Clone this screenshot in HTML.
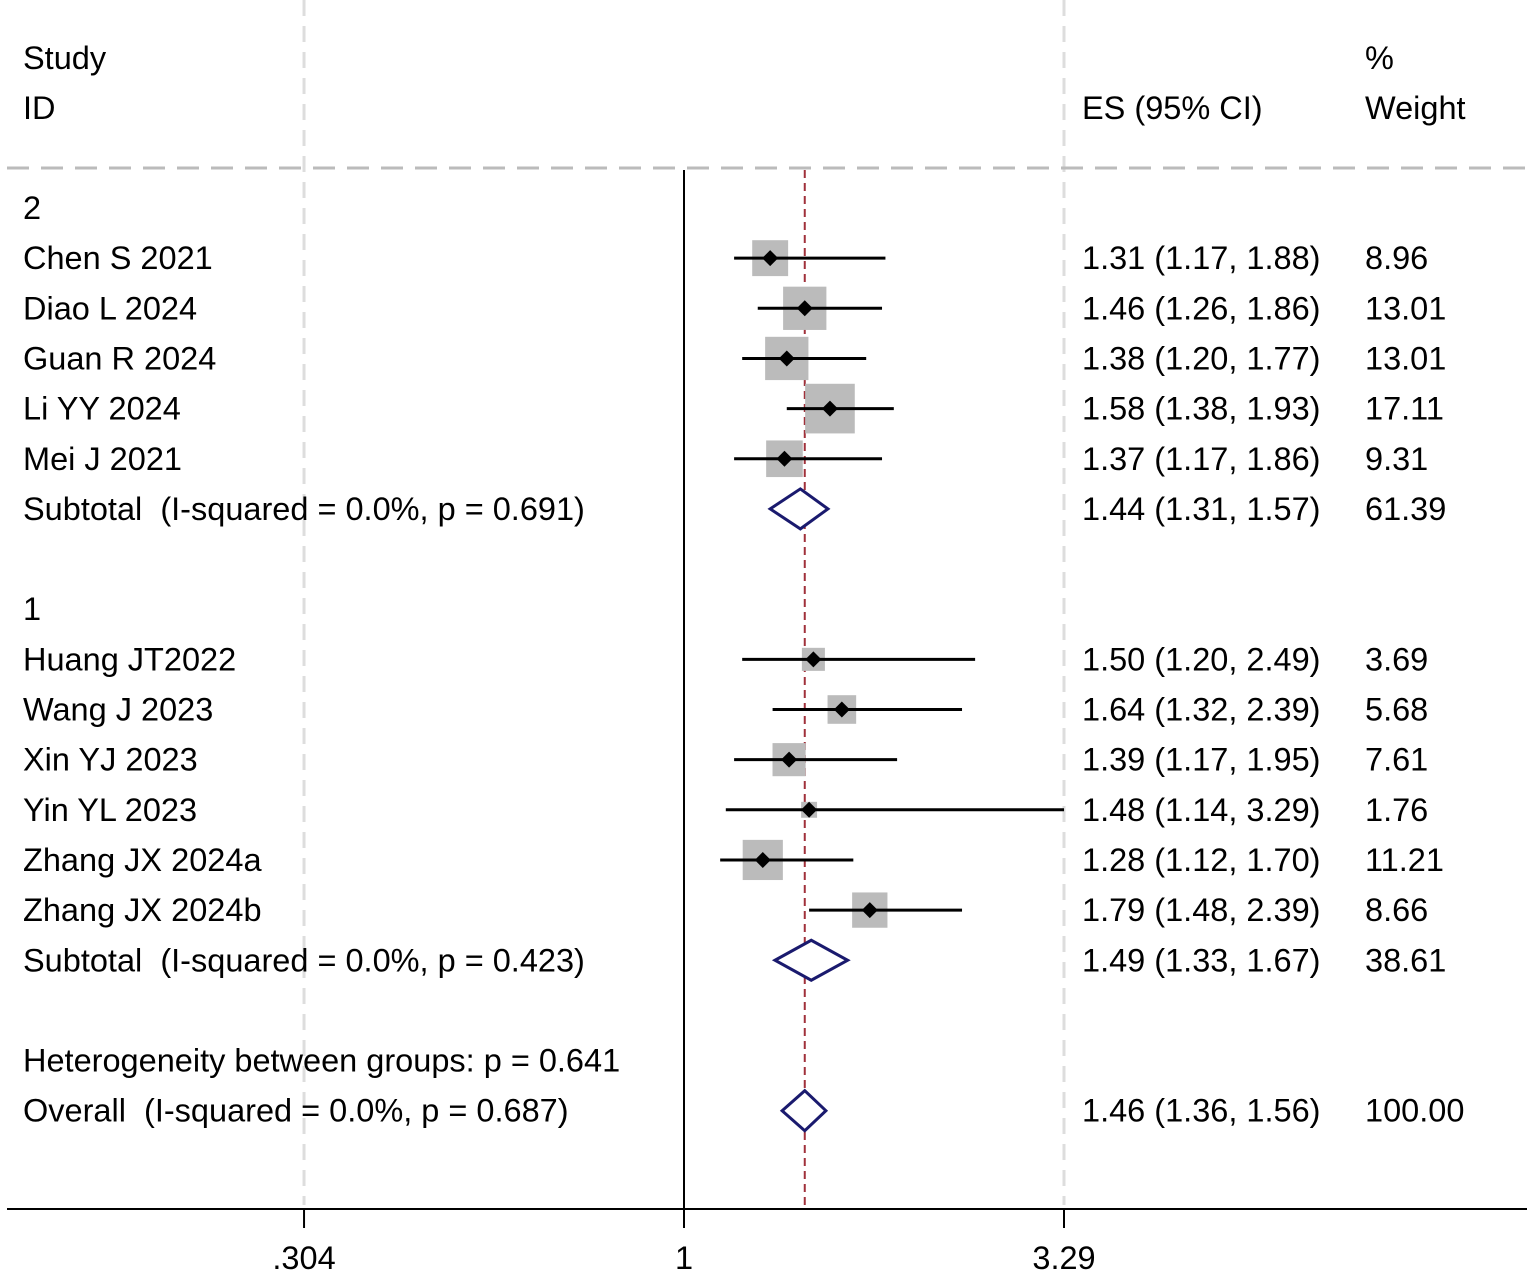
<!DOCTYPE html>
<html><head><meta charset="utf-8"><style>
html,body{margin:0;padding:0;background:#fff}
svg{display:block}
text{font-family:"Liberation Sans",Arial,sans-serif;font-size:32.5px;fill:#000;white-space:pre}
</style></head><body>
<svg id="chart" width="1535" height="1276" viewBox="0 0 1535 1276" xml:space="preserve"></svg>
<script>
const studies=["Chen S 2021","Diao L 2024","Guan R 2024","Li YY 2024","Mei J 2021","Huang JT2022","Wang J 2023","Xin YJ 2023","Yin YL 2023","Zhang JX 2024a","Zhang JX 2024b"];
const es=[1.31,1.46,1.38,1.58,1.37,1.50,1.64,1.39,1.48,1.28,1.79];
const lo=[1.17,1.26,1.20,1.38,1.17,1.20,1.32,1.17,1.14,1.12,1.48];
const hi=[1.88,1.86,1.77,1.93,1.86,2.49,2.39,1.95,3.29,1.70,2.39];
const wt=["8.96","13.01","13.01","17.11","9.31","3.69","5.68","7.61","1.76","11.21","8.66"];
const studyRows=[1,2,3,4,5,9,10,11,12,13,14];
const pooledLabels=["Subtotal  (I-squared = 0.0%, p = 0.691)","Subtotal  (I-squared = 0.0%, p = 0.423)","Overall  (I-squared = 0.0%, p = 0.687)"];
const pooledEs=[1.44,1.49,1.46];
const pooledLo=[1.31,1.33,1.36];
const pooledHi=[1.57,1.67,1.56];
const pooledWt=["61.39","38.61","100.00"];
const pooledRows=[6,15,18];
const tickVals=[0.304,1,3.29];
const tickLabels=[".304","1","3.29"];

const svg=document.getElementById('chart');
const NS='http://www.w3.org/2000/svg';
const x=v=>684+Math.log(v)*319.1;
const y=r=>208+r*50.15;
function el(tag,attrs,name){const e=document.createElementNS(NS,tag);for(const k in attrs)e.setAttribute(k,attrs[k]);


svg.appendChild(e);return e;}
function txt(s,xx,yy,name,anchor){const t=el('text',{x:xx,y:yy+11,'text-anchor':anchor||'start'},name);t.textContent=s;return t;}

// grid
el('line',{x1:x(0.304),y1:0,x2:x(0.304),y2:1205,stroke:'#ddd','stroke-width':3,'stroke-dasharray':'16,10'},'gridline-304');
el('line',{x1:x(3.29),y1:0,x2:x(3.29),y2:1205,stroke:'#ddd','stroke-width':3,'stroke-dasharray':'16,10'},'gridline-329');
el('line',{x1:7,y1:168,x2:1527,y2:168,stroke:'#bbb','stroke-width':3,'stroke-dasharray':'22,12'},'header-separator');
el('line',{x1:684,y1:170,x2:684,y2:1209,stroke:'#000','stroke-width':2},'null-line');
el('line',{x1:x(pooledEs[2]),y1:170,x2:x(pooledEs[2]),y2:1209,stroke:'#a0313a','stroke-width':2,'stroke-dasharray':'8,5'},'overall-effect-line');
// axis
el('line',{x1:7,y1:1209,x2:1527,y2:1209,stroke:'#000','stroke-width':2},'x-axis');
tickVals.forEach((v,i)=>{el('line',{x1:x(v),y1:1209,x2:x(v),y2:1228,stroke:'#000','stroke-width':2},'x-tick');
txt(tickLabels[i],x(v),1258,'x-tick-label','middle');});

// headers
txt('Study',23,58,'header-study');txt('ID',23,108,'header-id');
txt('ES (95% CI)',1082,108,'header-es');txt('%',1365,58,'header-percent');txt('Weight',1365,108,'header-weight');
txt('2',23,y(0),'group-label-2');txt('1',23,y(8),'group-label-1');
txt('Heterogeneity between groups: p = 0.641',23,y(17),'heterogeneity-label');

studies.forEach((s,i)=>{const yy=y(studyRows[i]);
txt(s,23,yy,'study-label');
const side=12*Math.sqrt(parseFloat(wt[i]));
el('rect',{x:x(es[i])-side/2,y:yy-side/2,width:side,height:side,fill:'#bbb'},'weight-box');
el('line',{x1:x(lo[i]),y1:yy,x2:x(hi[i]),y2:yy,stroke:'#000','stroke-width':3},'ci-line');
el('polygon',{points:`${x(es[i])-8},${yy} ${x(es[i])},${yy-8} ${x(es[i])+8},${yy} ${x(es[i])},${yy+8}`,fill:'#000'},'point-estimate');
txt(es[i].toFixed(2)+' ('+lo[i].toFixed(2)+', '+hi[i].toFixed(2)+')',1082,yy,'es-ci-value');
txt(wt[i],1365,yy,'weight-value');});

pooledLabels.forEach((s,i)=>{const yy=y(pooledRows[i]);
txt(s,23,yy,'pooled-label');
el('polygon',{points:`${x(pooledLo[i])},${yy} ${x(pooledEs[i])},${yy-20} ${x(pooledHi[i])},${yy} ${x(pooledEs[i])},${yy+20}`,fill:'#fff',stroke:'#1a1a6e','stroke-width':3},'pooled-diamond');
txt(pooledEs[i].toFixed(2)+' ('+pooledLo[i].toFixed(2)+', '+pooledHi[i].toFixed(2)+')',1082,yy,'pooled-es-ci');
txt(pooledWt[i],1365,yy,'pooled-weight');});
</script>
</body></html>
